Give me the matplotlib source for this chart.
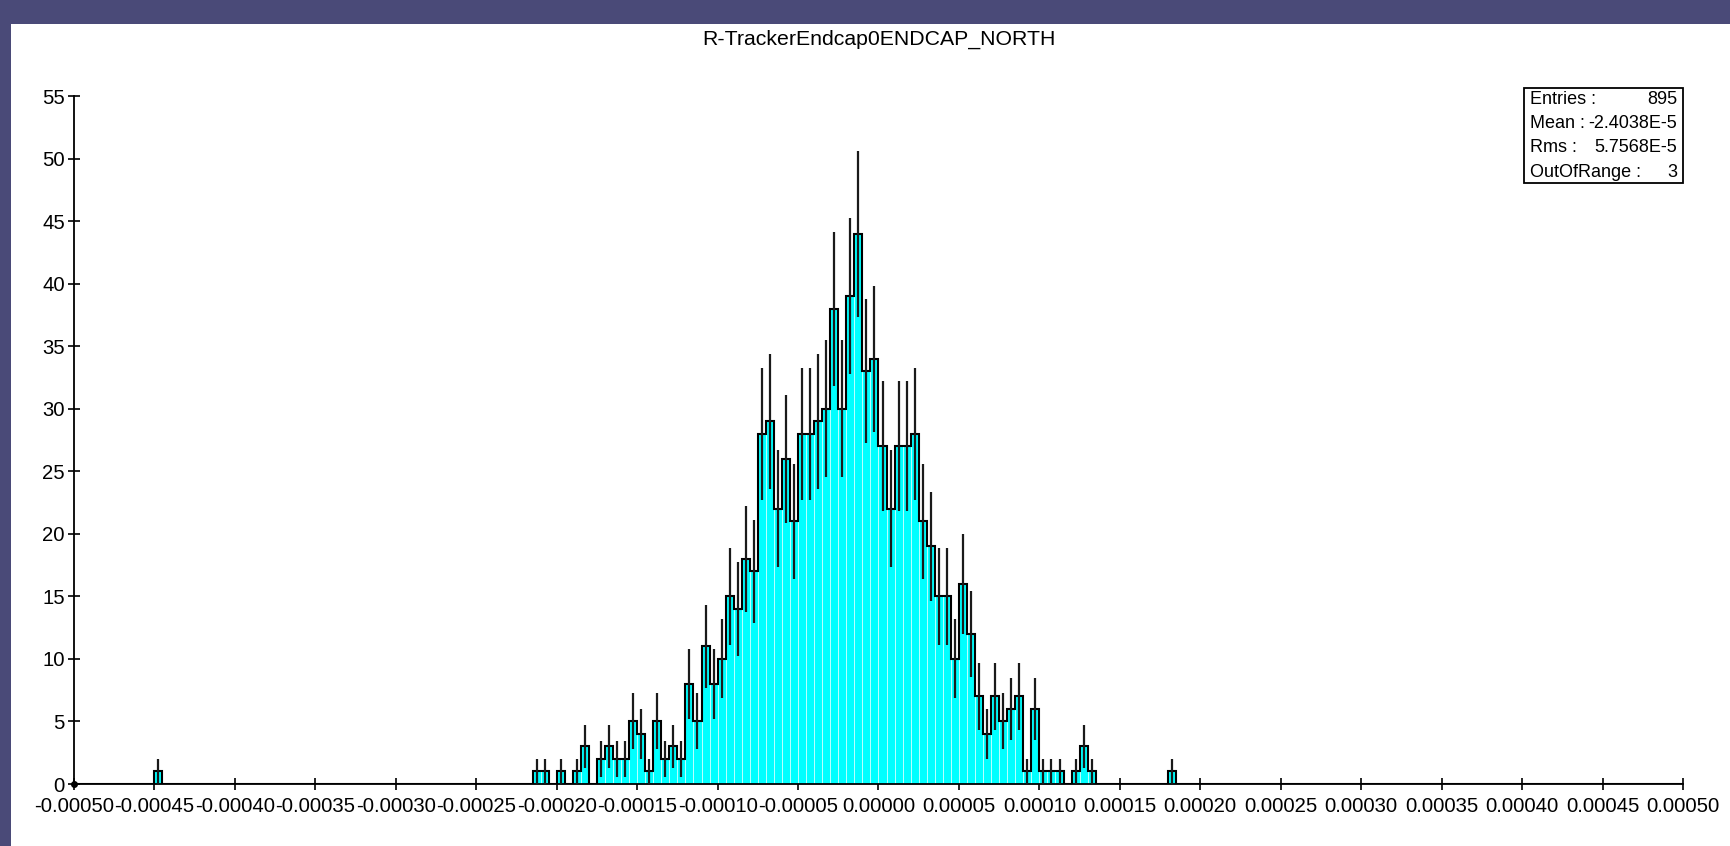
import numpy as np
import matplotlib
matplotlib.use("Agg")
import matplotlib.pyplot as plt
from matplotlib.patches import Rectangle

# -----------------------------
# Data (200 bins from -0.0005 to 0.0005)
# -----------------------------
x_min, x_max, n_bins = -0.0005, 0.0005, 200

counts = (
    [0, 0, 0, 0, 0, 0, 0, 0, 0, 0, 1, 0, 0, 0, 0, 0, 0, 0, 0, 0]
    + [0] * 20
    + [0] * 17 + [1, 1, 0]
    + [1, 0, 1, 3, 0, 2, 3, 2, 2, 5, 4, 1, 5, 2, 3, 2, 8, 5, 11, 8]
    + [10, 15, 14, 18, 17, 28, 29, 22, 26, 21, 28, 28, 29, 30, 38, 30, 39, 44, 33, 34]
    + [27, 22, 27, 27, 28, 21, 19, 15, 15, 10, 16, 12, 7, 4, 7, 5, 6, 7, 1, 6]
    + [1, 1, 1, 0, 1, 3, 1, 0, 0, 0, 0, 0, 0, 0, 0, 0, 1, 0, 0, 0]
    + [0] * 60
)

title = "R-TrackerEndcap0ENDCAP_NORTH"
stat_labels = ["Entries :", "Mean :", "Rms :", "OutOfRange :"]
stat_values = ["895", "-2.4038E-5", "5.7568E-5", "3"]

x_ticks = np.linspace(x_min, x_max, 21)
y_ticks = list(range(0, 56, 5))

# -----------------------------
# Plot
# -----------------------------
plt.rcParams["font.family"] = ["Liberation Sans", "DejaVu Sans"]
plt.rcParams["axes.unicode_minus"] = False

counts = np.array(counts, dtype=float)
edges = np.linspace(x_min, x_max, n_bins + 1)
centers = 0.5 * (edges[:-1] + edges[1:])
width = edges[1] - edges[0]

W, H = 1731, 846
fig = plt.figure(figsize=(W / 100, H / 100), dpi=100)
fig.patch.set_facecolor("#4a4a78")
# white screenshot area
fig.patches.append(Rectangle((11 / W, 0), 1, 1 - 24 / H, transform=fig.transFigure,
                             facecolor="white", edgecolor="none", zorder=-10))

ax = fig.add_axes([74 / W, (H - 784) / H, 1609 / W, 688 / H])
ax.set_facecolor("none")

nz = counts > 0
ax.bar(centers[nz], counts[nz], width=width, color="#00ffff",
       edgecolor="#b8ffff", linewidth=0.7, zorder=2)
ax.stairs(counts, edges, color="black", linewidth=1.5, zorder=3)
err = np.sqrt(counts[nz])
ax.vlines(centers[nz], counts[nz] - err, counts[nz] + err,
          color="#1a1a1a", linewidth=1.6, zorder=4)

ax.set_xlim(x_min, x_max)
ax.set_ylim(0, 55)
ax.set_xticks(x_ticks)
ax.set_xticklabels([f"{v:.5f}" for v in x_ticks])
ax.set_yticks(y_ticks)
ax.tick_params(direction="inout", length=9, width=1.2, labelsize=14.6)
ax.tick_params(axis="x", pad=5)
ax.tick_params(axis="y", pad=2)
for s in ["top", "right"]:
    ax.spines[s].set_visible(False)
for s in ["left", "bottom"]:
    ax.spines[s].set_linewidth(1.3)
ax.plot([x_min], [0], "o", color="black", ms=4, clip_on=False, zorder=5)

fig.text(879 / W, 1 - 39 / H, title, ha="center", va="center", fontsize=15.3)

# stats box
bx0, bx1, by0, by1 = 1524 / W, 1683 / W, 1 - 183 / H, 1 - 88 / H
fig.patches.append(Rectangle((bx0, by0), bx1 - bx0, by1 - by0, transform=fig.transFigure,
                             facecolor="white", edgecolor="black", linewidth=1.3, zorder=5))
for i, (lab, val) in enumerate(zip(stat_labels, stat_values)):
    yy = 1 - (99 + i * 24.5) / H
    fig.text(1530 / W, yy, lab, ha="left", va="center", fontsize=13, zorder=6)
    fig.text(1677 / W, yy, val, ha="right", va="center", fontsize=13, zorder=6)

fig.savefig("out.png", dpi=100, facecolor=fig.get_facecolor())
